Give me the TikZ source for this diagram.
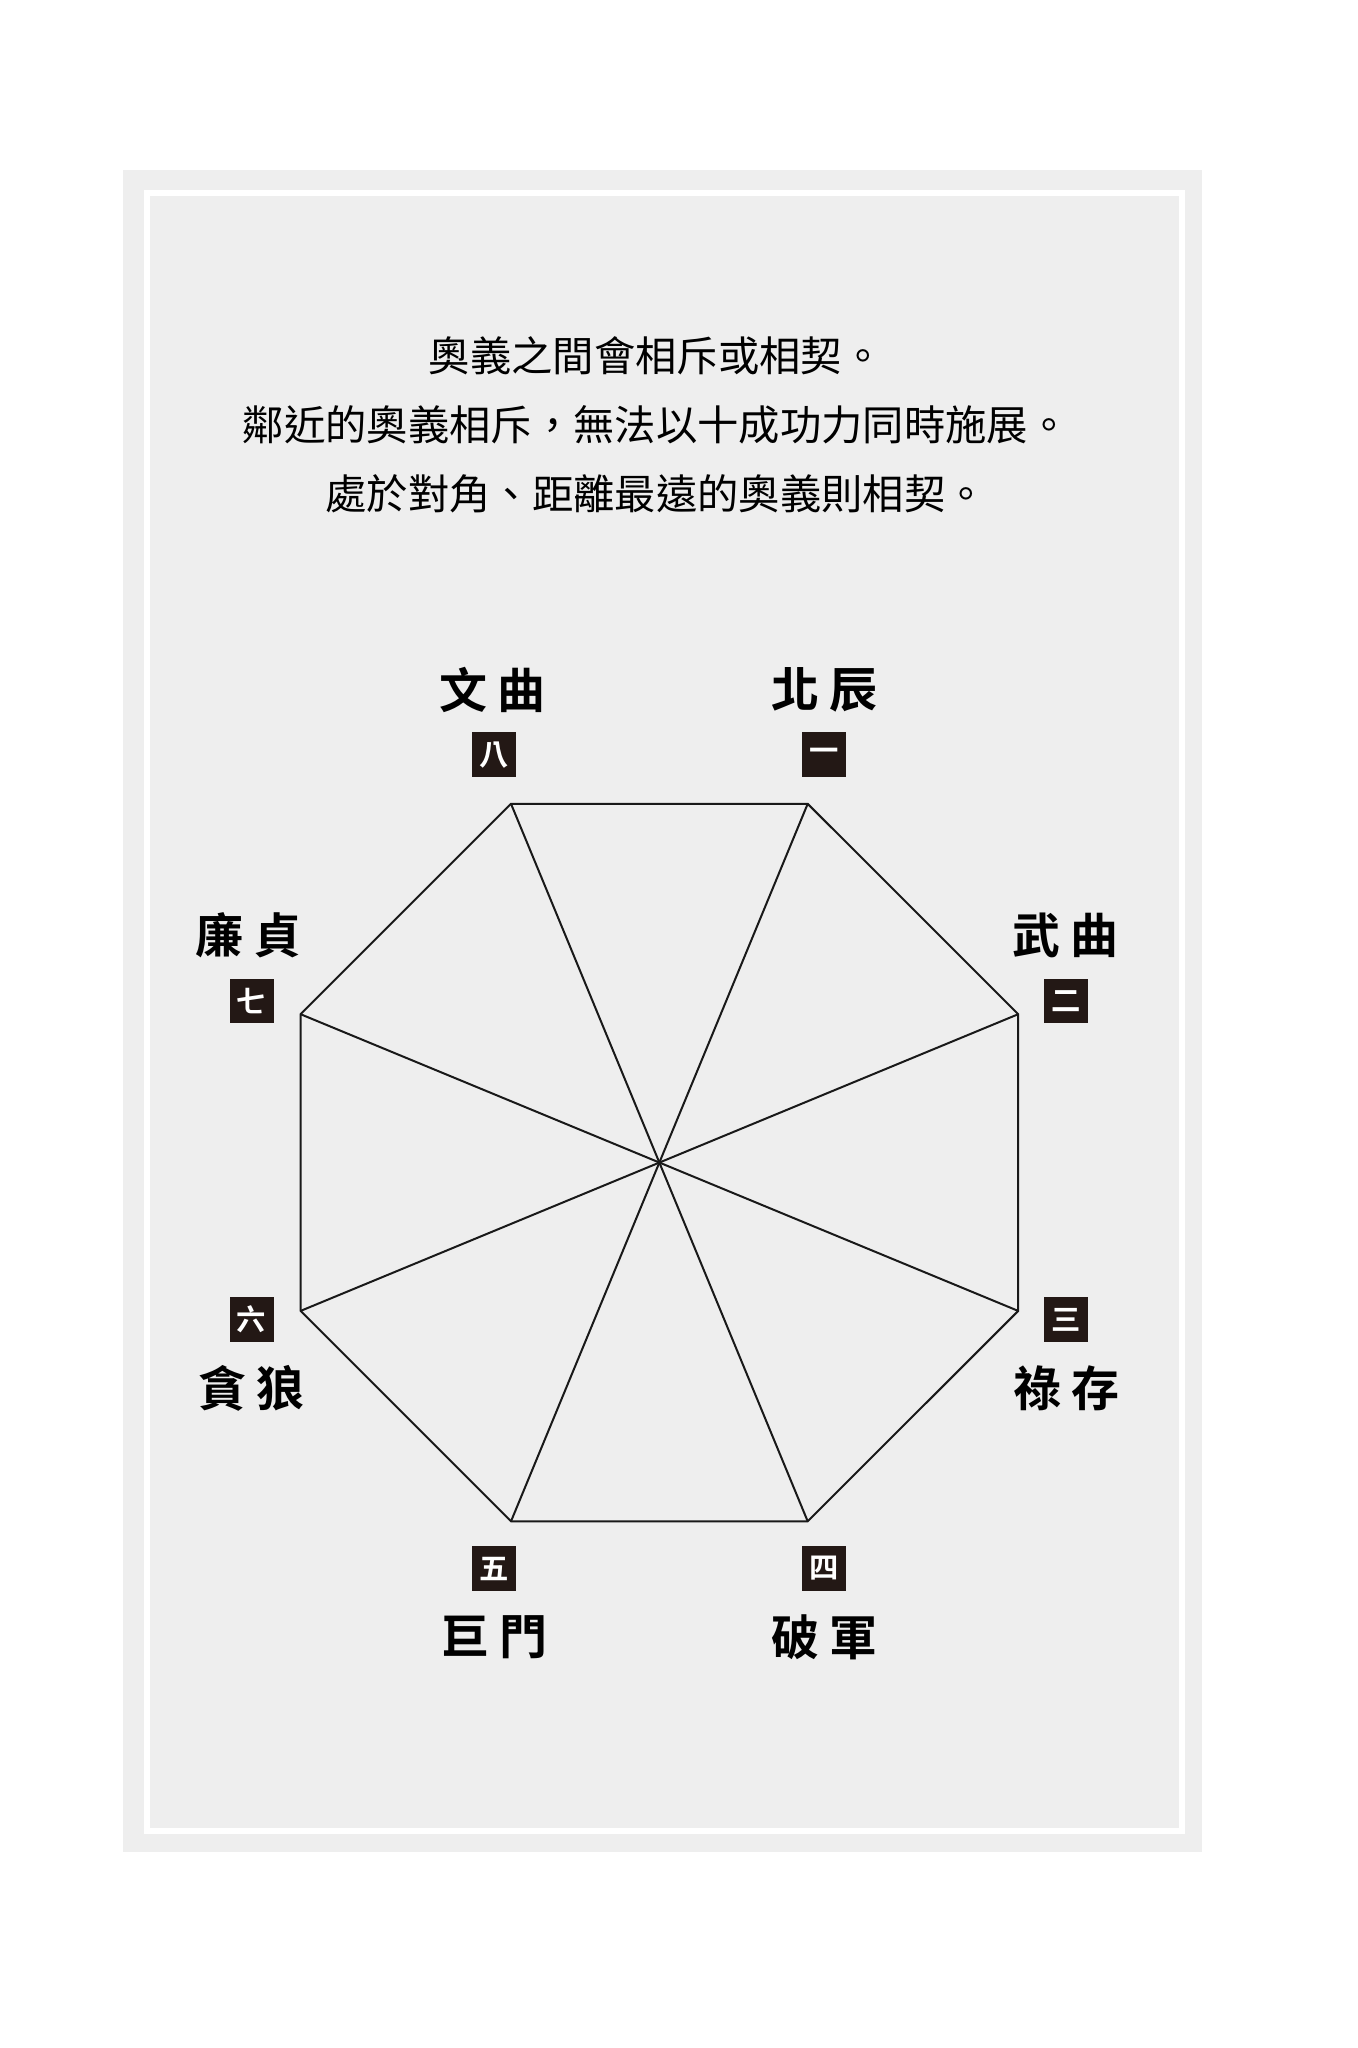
\documentclass[tikz,border=0pt]{standalone}
\usepackage{fontspec}
\newfontfamily\cjk{Noto Sans CJK TC}
\newfontfamily\cjkb{Noto Sans CJK TC Bold}
\definecolor{bggray}{RGB}{238,238,238}
\definecolor{boxdark}{RGB}{35,24,21}
\newcommand{\twochar}[2]{#1\kern8pt#2}
\begin{document}
\begin{tikzpicture}[x=0.75pt,y=-0.75pt,
  headline/.style={font=\cjk\fontsize{31pt}{36pt}\selectfont, text=black, inner sep=0pt, anchor=center},
  starname/.style={font=\cjkb\fontsize{36pt}{40pt}\selectfont, text=black, inner sep=0pt},
  numbox/.style={fill=boxdark, minimum width=33pt, minimum height=33.5pt, inner sep=0pt,
    text=white, font=\cjkb\fontsize{22pt}{24pt}\selectfont},
  octline/.style={draw=black!90, line width=1.5pt, line join=miter},
  spoke/.style={draw=black!90, line width=1.5pt}]
\useasboundingbox (0,0) rectangle (1358,2048);
\fill[white] (0,0) rectangle (1358,2048);
% frame
\fill[bggray] (123,170) rectangle (1202,1852);
\draw[white, line width=4.5pt] (146.5,193) rectangle (1181.5,1830.5);
% heading
\node[headline] (h1) at (656,355.5) {奧義之間會相斥或相契。};
\node[headline] (h2) at (656,424.8) {鄰近的奧義相斥，無法以十成功力同時施展。};
\node[headline] (h3) at (656,494) {處於對角、距離最遠的奧義則相契。};
% octagon
\coordinate (C) at (659.4,1162.6);
\coordinate (v1) at (807.7,803.8);
\coordinate (v2) at (1018.2,1014.2);
\coordinate (v3) at (1018.2,1310.9);
\coordinate (v4) at (807.7,1521.3);
\coordinate (v5) at (511,1521.3);
\coordinate (v6) at (300.6,1310.9);
\coordinate (v7) at (300.6,1014.2);
\coordinate (v8) at (511,803.8);
\draw[octline] (v1) -- (v2) -- (v3) -- (v4) -- (v5) -- (v6) -- (v7) -- (v8) -- cycle;
\draw[spoke] (v1) -- (v5);
\draw[spoke] (v2) -- (v6);
\draw[spoke] (v3) -- (v7);
\draw[spoke] (v4) -- (v8);
% labels
\node[numbox] (n1) at (824.4,754.6) {一};
\node[starname] (s1) at (824.4,690) {\twochar{北}{辰}};
\node[numbox] (n8) at (494.4,754.6) {八};
\node[starname] (s8) at (492.4,690) {\twochar{文}{曲}};
\node[numbox] (n2) at (1066.4,1001) {二};
\node[starname] (s2) at (1065.4,935) {\twochar{武}{曲}};
\node[numbox] (n7) at (251.5,1001) {七};
\node[starname] (s7) at (248.5,935) {\twochar{廉}{貞}};
\node[numbox] (n3) at (1066.4,1319.5) {三};
\node[starname] (s3) at (1066.4,1388.5) {\twochar{祿}{存}};
\node[numbox] (n6) at (251.5,1319.5) {六};
\node[starname] (s6) at (251.5,1388.5) {\twochar{貪}{狼}};
\node[numbox] (n4) at (824.4,1568.5) {四};
\node[starname] (s4) at (824.4,1637.5) {\twochar{破}{軍}};
\node[numbox] (n5) at (494.4,1568.5) {五};
\node[starname] (s5) at (494.4,1637.5) {\twochar{巨}{門}};
\end{tikzpicture}
\end{document}
